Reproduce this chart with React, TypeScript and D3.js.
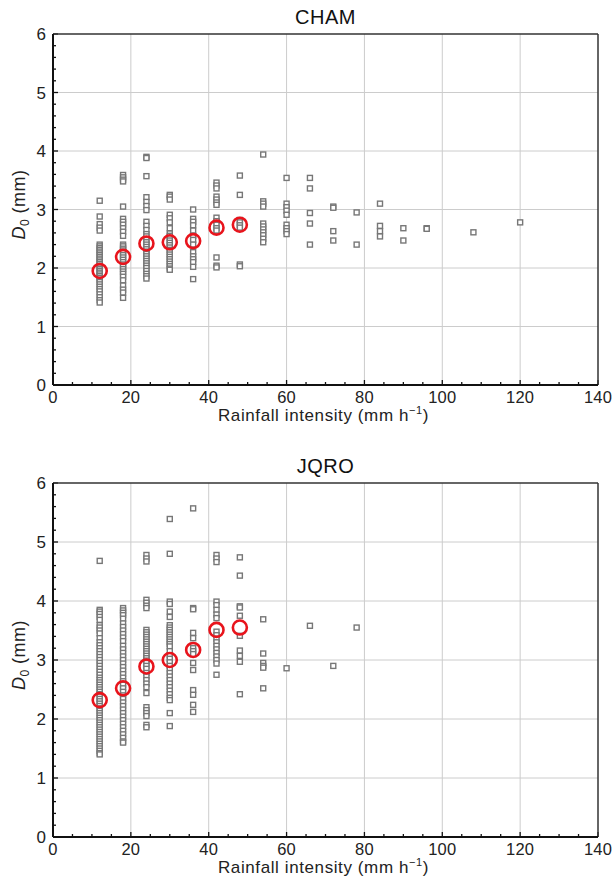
import React, { useEffect, useRef } from "react";
import * as d3 from "d3";

// ---------- DATA ----------
const chamX = [12, 18, 24, 30, 36, 42, 48, 54, 60, 66, 72, 78, 84, 90, 96, 108, 120];
const chamY: number[][] = [
  [3.15, 2.88, 2.75, 2.69, 2.64, 2.4, 2.37, 2.34, 2.31, 2.28, 2.25, 2.22, 2.19, 2.16, 2.13, 2.1, 2.07, 2.04, 2.01, 1.98, 1.95, 1.92, 1.89, 1.86, 1.83, 1.8, 1.76, 1.72, 1.68, 1.64, 1.6, 1.55, 1.5, 1.45, 1.41],
  [3.59, 3.55, 3.51, 3.48, 3.05, 2.84, 2.79, 2.74, 2.68, 2.62, 2.55, 2.4, 2.37, 2.33, 2.3, 2.26, 2.22, 2.18, 2.14, 2.1, 2.06, 2.02, 1.98, 1.94, 1.9, 1.85, 1.79, 1.7, 1.63, 1.58, 1.49],
  [3.9, 3.88, 3.57, 3.21, 3.13, 3.06, 2.99, 2.79, 2.72, 2.65, 2.58, 2.54, 2.48, 2.44, 2.4, 2.36, 2.32, 2.28, 2.24, 2.2, 2.16, 2.12, 2.08, 2.04, 2.0, 1.95, 1.9, 1.86, 1.82],
  [3.25, 3.22, 3.17, 2.91, 2.85, 2.78, 2.68, 2.59, 2.55, 2.51, 2.47, 2.43, 2.39, 2.35, 2.31, 2.27, 2.23, 2.19, 2.15, 2.11, 2.07, 2.03, 1.99, 1.97],
  [3.0, 2.84, 2.79, 2.73, 2.64, 2.55, 2.48, 2.4, 2.27, 2.2, 2.15, 2.1, 2.02, 1.81],
  [3.46, 3.41, 3.36, 3.22, 3.17, 3.12, 3.08, 2.86, 2.8, 2.74, 2.68, 2.64, 2.18, 2.04, 2.01],
  [3.58, 3.25, 2.82, 2.78, 2.73, 2.69, 2.06, 2.03],
  [3.94, 3.14, 3.1, 3.05, 2.76, 2.71, 2.66, 2.61, 2.56, 2.5, 2.44],
  [3.54, 3.1, 3.04, 2.98, 2.91, 2.74, 2.68, 2.63, 2.58],
  [3.54, 3.36, 2.94, 2.76, 2.4],
  [3.05, 3.03, 2.63, 2.47],
  [2.95, 2.4],
  [3.1, 2.72, 2.63, 2.54],
  [2.68, 2.47],
  [2.68, 2.67],
  [2.61],
  [2.78],
];
const chamMeanX = [12, 18, 24, 30, 36, 42, 48];
const chamMeanY = [1.95, 2.19, 2.42, 2.44, 2.46, 2.69, 2.74];

const jqroX = [12, 18, 24, 30, 36, 42, 48, 54, 60, 66, 72, 78];
const jqroY: number[][] = [
  [4.68, 3.85, 3.82, 3.78, 3.73, 3.68, 3.59, 3.55, 3.5, 3.45, 3.37, 3.3, 3.25, 3.2, 3.15, 3.1, 3.05, 3.0, 2.95, 2.9, 2.85, 2.8, 2.75, 2.7, 2.66, 2.62, 2.58, 2.54, 2.5, 2.46, 2.42, 2.38, 2.34, 2.3, 2.26, 2.22, 2.18, 2.14, 2.1, 2.06, 2.02, 1.98, 1.94, 1.9, 1.86, 1.82, 1.78, 1.74, 1.7, 1.66, 1.62, 1.58, 1.54, 1.5, 1.46, 1.42, 1.4],
  [3.88, 3.84, 3.8, 3.76, 3.7, 3.62, 3.56, 3.5, 3.44, 3.38, 3.32, 3.24, 3.18, 3.12, 3.06, 3.0, 2.94, 2.88, 2.82, 2.76, 2.7, 2.64, 2.58, 2.52, 2.46, 2.4, 2.34, 2.28, 2.22, 2.16, 2.1, 2.04, 1.98, 1.92, 1.86, 1.8, 1.74, 1.68, 1.62, 1.6],
  [4.78, 4.72, 4.67, 4.02, 3.97, 3.92, 3.88, 3.51, 3.47, 3.43, 3.39, 3.35, 3.31, 3.27, 3.23, 3.19, 3.15, 3.11, 3.07, 3.03, 2.99, 2.95, 2.9, 2.85, 2.78, 2.72, 2.66, 2.6, 2.54, 2.44, 2.2, 2.15, 2.1, 2.05, 1.9, 1.86],
  [5.39, 4.8, 3.99, 3.95, 3.82, 3.73, 3.59, 3.55, 3.51, 3.47, 3.43, 3.39, 3.35, 3.31, 3.27, 3.23, 3.15, 3.08, 3.02, 2.96, 2.9, 2.84, 2.78, 2.72, 2.66, 2.6, 2.54, 2.48, 2.42, 2.36, 2.32, 2.1, 1.88],
  [5.57, 3.88, 3.86, 3.46, 3.37, 3.2, 3.15, 3.1, 2.95, 2.83, 2.49, 2.41, 2.24, 2.12],
  [4.78, 4.72, 4.66, 3.99, 3.93, 3.85, 3.77, 3.71, 3.48, 3.42, 3.36, 3.3, 3.24, 3.18, 3.12, 3.06, 3.0, 2.94, 2.75],
  [4.74, 4.43, 3.91, 3.89, 3.75, 3.41, 3.16, 3.07, 2.97, 2.42],
  [3.69, 3.11, 2.95, 2.9, 2.87, 2.52],
  [2.86],
  [3.58],
  [2.9],
  [3.55],
];
const jqroMeanX = [12, 18, 24, 30, 36, 42, 48];
const jqroMeanY = [2.32, 2.52, 2.89, 3.0, 3.17, 3.51, 3.55];

const xTicks = [0, 20, 40, 60, 80, 100, 120, 140];
const yTicks = [0, 1, 2, 3, 4, 5, 6];

// ---------- LAYOUT ----------
const W = 613;
const H = 885;
const LEFT = 53;
const RIGHT = 598;
const panels = [
  { title: "CHAM", top: 34, bottom: 385, xs: chamX, ys: chamY, mx: chamMeanX, my: chamMeanY },
  { title: "JQRO", top: 483, bottom: 837, xs: jqroX, ys: jqroY, mx: jqroMeanX, my: jqroMeanY },
];

export default function App() {
  const ref = useRef<SVGSVGElement>(null);

  useEffect(() => {
    const svg = d3.select(ref.current);
    svg.selectAll("*").remove();
    const font = "'Liberation Sans', Arial, sans-serif";

    panels.forEach((p) => {
      const x = d3.scaleLinear().domain([0, 140]).range([LEFT, RIGHT]);
      const y = d3.scaleLinear().domain([0, 6]).range([p.bottom, p.top]);
      const g = svg.append("g");

      // grid
      g.selectAll(".gx").data(xTicks.slice(1, -1)).enter().append("line")
        .attr("x1", (d) => x(d)).attr("x2", (d) => x(d))
        .attr("y1", p.top).attr("y2", p.bottom)
        .attr("stroke", "#cccccc").attr("stroke-width", 1);
      g.selectAll(".gy").data(yTicks.slice(1, -1)).enter().append("line")
        .attr("y1", (d) => y(d)).attr("y2", (d) => y(d))
        .attr("x1", LEFT).attr("x2", RIGHT)
        .attr("stroke", "#cccccc").attr("stroke-width", 1);

      // minor ticks
      const xMinor = d3.range(0, 141, 5);
      g.selectAll(".mx").data(xMinor).enter().append("line")
        .attr("x1", (d) => x(d)).attr("x2", (d) => x(d))
        .attr("y1", p.bottom).attr("y2", (d) => p.bottom - (d % 20 === 0 ? 5 : 3))
        .attr("stroke", "#111").attr("stroke-width", 1.3);
      const yMinor = d3.range(0, 31).map((i) => i * 0.2);
      g.selectAll(".my").data(yMinor).enter().append("line")
        .attr("y1", (d) => y(d)).attr("y2", (d) => y(d))
        .attr("x1", LEFT).attr("x2", (d, i) => LEFT + (i % 5 === 0 ? 5 : 3))
        .attr("stroke", "#111").attr("stroke-width", 1.3);

      // frame
      g.append("line").attr("x1", LEFT).attr("x2", RIGHT).attr("y1", p.top).attr("y2", p.top)
        .attr("stroke", "#333").attr("stroke-width", 1.5);
      g.append("line").attr("x1", RIGHT).attr("x2", RIGHT).attr("y1", p.top).attr("y2", p.bottom)
        .attr("stroke", "#333").attr("stroke-width", 1.5);
      g.append("line").attr("x1", LEFT).attr("x2", RIGHT).attr("y1", p.bottom).attr("y2", p.bottom)
        .attr("stroke", "#111").attr("stroke-width", 2);
      g.append("line").attr("x1", LEFT).attr("x2", LEFT).attr("y1", p.top).attr("y2", p.bottom)
        .attr("stroke", "#111").attr("stroke-width", 2);

      // tick labels
      g.selectAll(".tx").data(xTicks).enter().append("text")
        .attr("x", (d) => x(d)).attr("y", p.bottom + 18)
        .attr("text-anchor", "middle").attr("font-family", font).attr("font-size", 16.5)
        .attr("letter-spacing", 0.2)
        .attr("fill", "#222").text((d) => d);
      g.selectAll(".ty").data(yTicks).enter().append("text")
        .attr("x", LEFT - 7).attr("y", (d) => y(d) + 6)
        .attr("text-anchor", "end").attr("font-family", font).attr("font-size", 17)
        .attr("fill", "#222").text((d) => d);

      // axis titles
      const xt = g.append("text").attr("x", (LEFT + RIGHT) / 2 - 2).attr("y", p.bottom + 36)
        .attr("text-anchor", "middle").attr("font-family", font).attr("font-size", 17)
        .attr("letter-spacing", 0.6)
        .attr("fill", "#222");
      xt.append("tspan").text("Rainfall intensity (mm h");
      xt.append("tspan").attr("font-size", 11).attr("dy", -7).text("\u22121");
      xt.append("tspan").attr("dy", 7).text(")");

      const yt = g.append("text")
        .attr("transform", `translate(25,${(p.top + p.bottom) / 2 - 5}) rotate(-90)`)
        .attr("text-anchor", "middle").attr("font-family", font).attr("font-size", 18)
        .attr("letter-spacing", 0.5)
        .attr("fill", "#222");
      yt.append("tspan").attr("font-style", "italic").text("D");
      yt.append("tspan").attr("font-size", 12).attr("dy", 4).text("0");
      yt.append("tspan").attr("dy", -4).text(" (mm)");

      // title
      g.append("text").attr("x", (LEFT + RIGHT) / 2).attr("y", p.top - 10)
        .attr("text-anchor", "middle").attr("font-family", font).attr("font-size", 20)
        .attr("letter-spacing", 0.5)
        .attr("fill", "#111").text(p.title);

      // points
      const pts: [number, number][] = [];
      p.xs.forEach((xv, i) => p.ys[i].forEach((yv) => pts.push([xv, yv])));
      const s = 5;
      g.selectAll(".pt").data(pts).enter().append("rect")
        .attr("x", (d) => x(d[0]) - s / 2).attr("y", (d) => y(d[1]) - s / 2)
        .attr("width", s).attr("height", s)
        .attr("fill", "white").attr("stroke", "#777").attr("stroke-width", 1.4);

      // means
      g.selectAll(".mn").data(p.mx.map((xv, i) => [xv, p.my[i]])).enter().append("circle")
        .attr("cx", (d) => x(d[0])).attr("cy", (d) => y(d[1])).attr("r", 7)
        .attr("fill", "none").attr("stroke", "#e8141c").attr("stroke-width", 2.6);
    });
  }, []);

  return (
    <svg ref={ref} width={W} height={H}
      style={{ position: "absolute", left: 0, top: 0, background: "white" }} />
  );
}
